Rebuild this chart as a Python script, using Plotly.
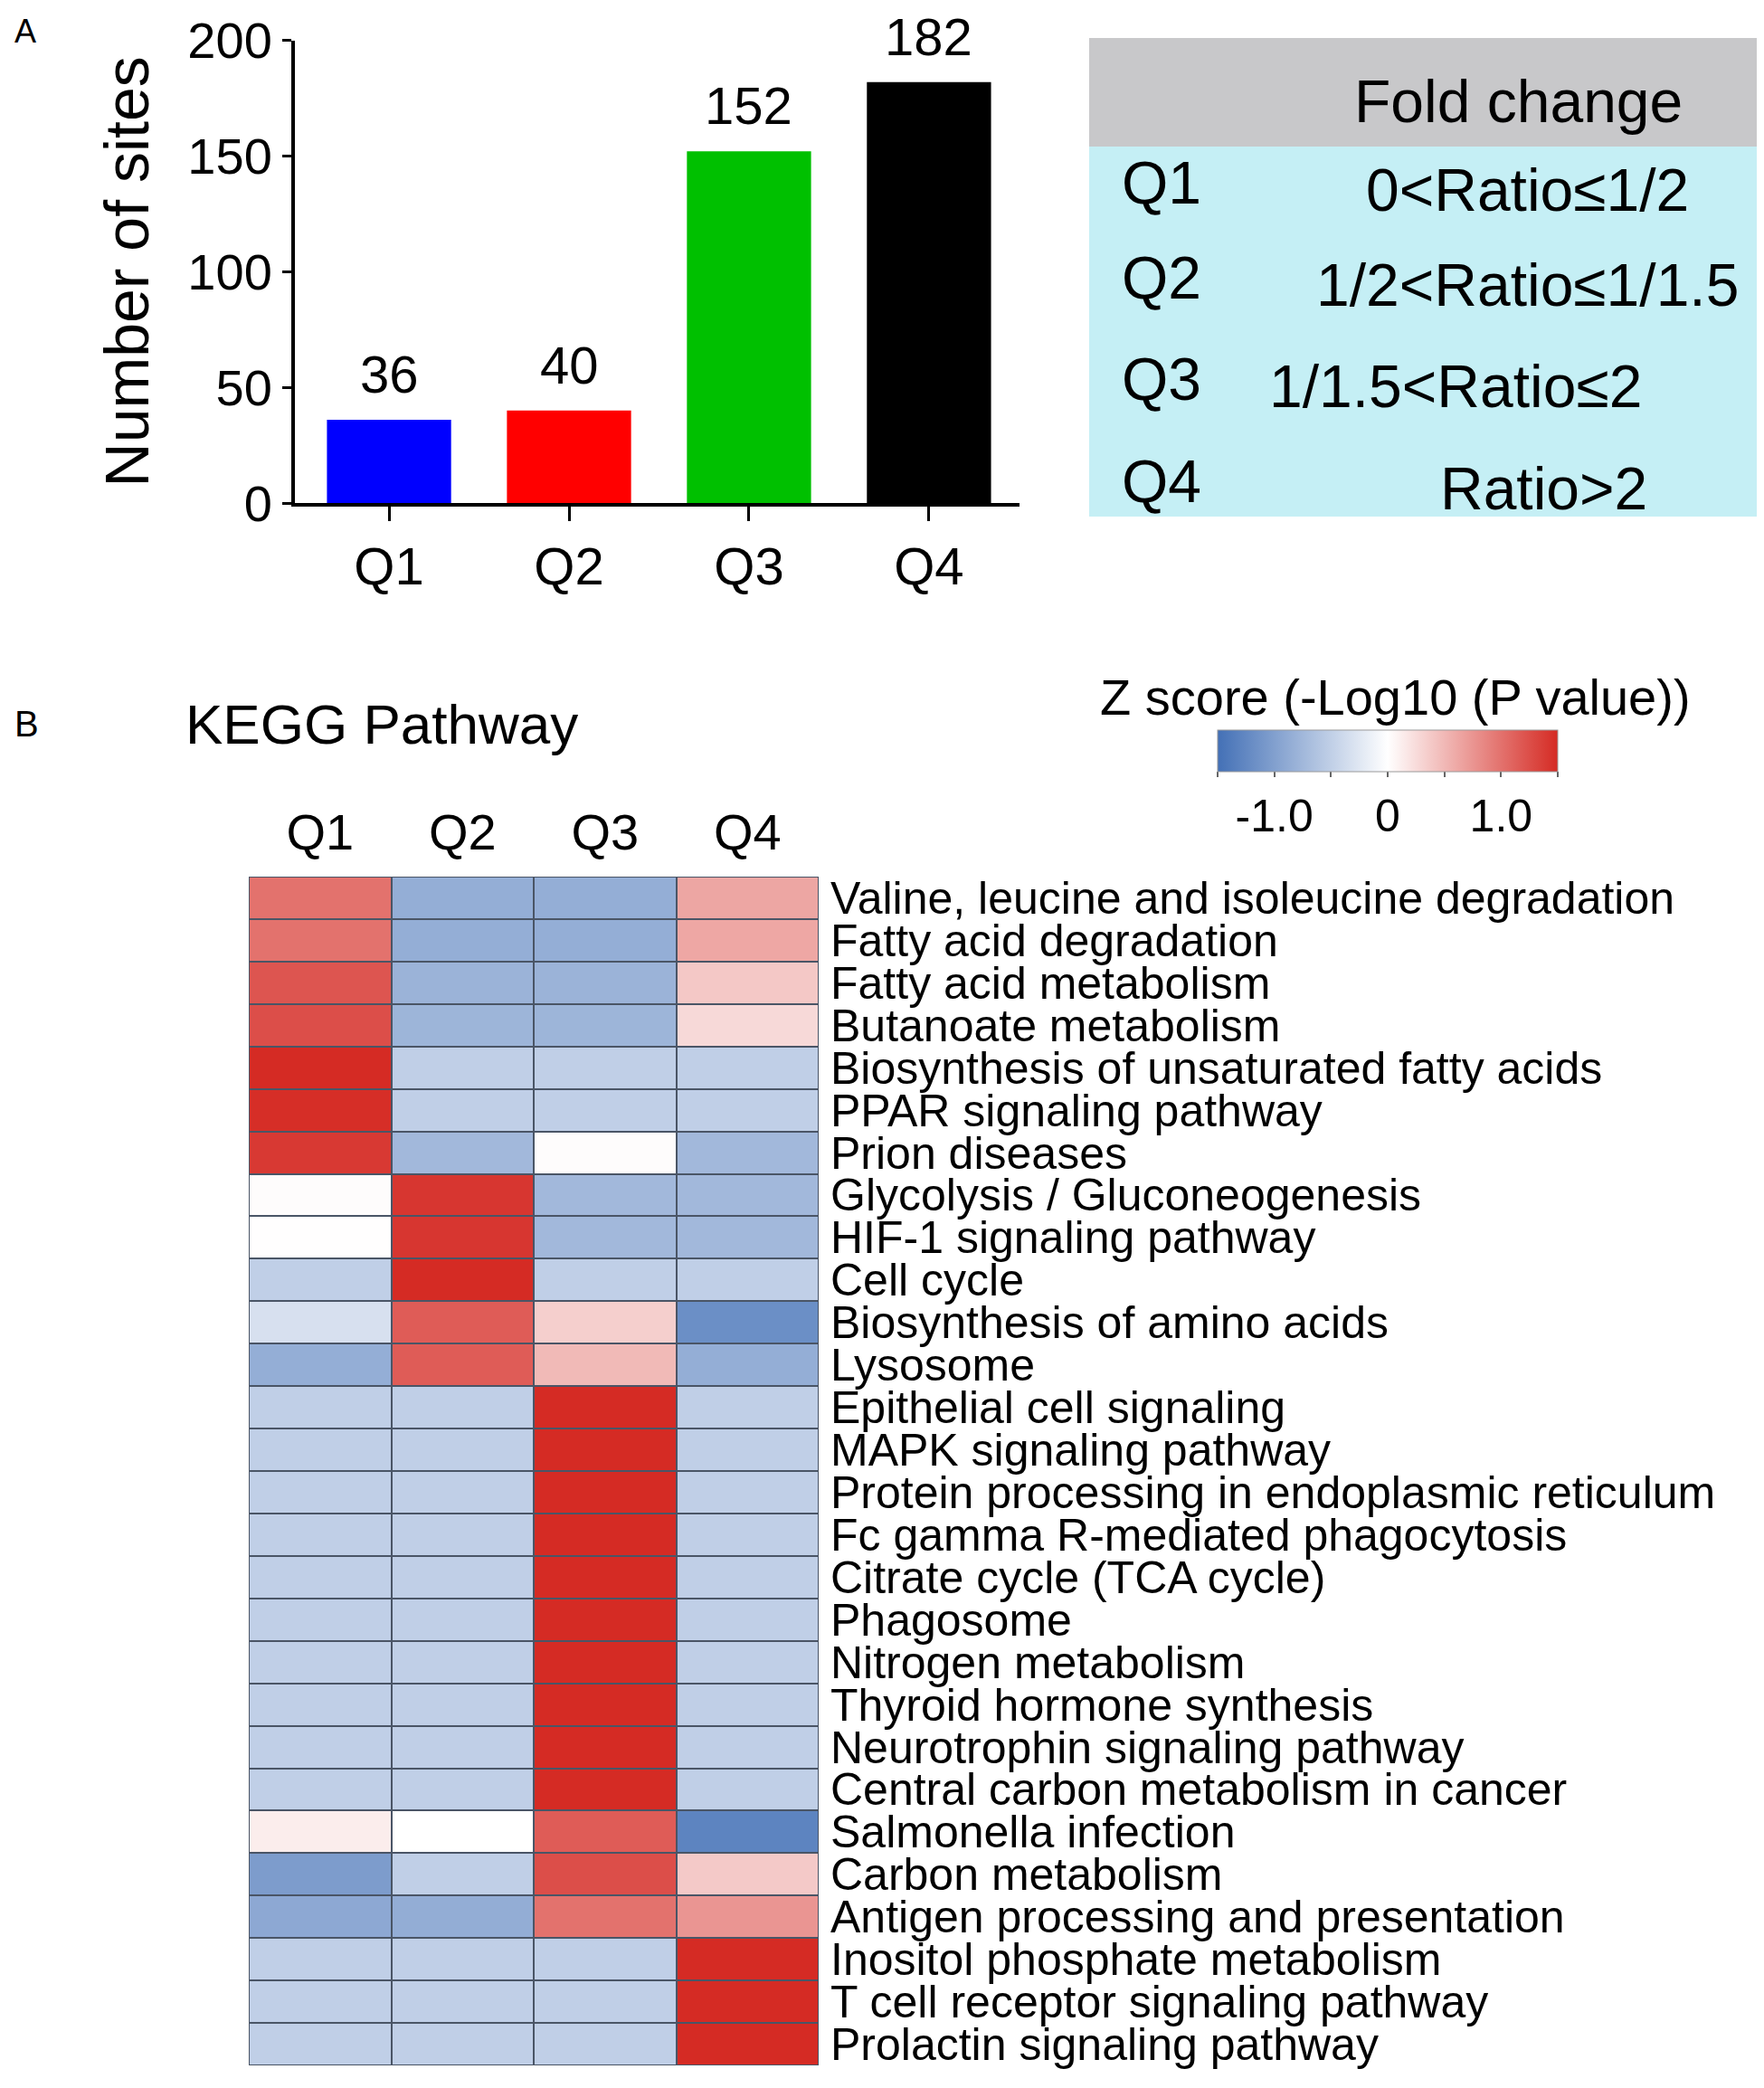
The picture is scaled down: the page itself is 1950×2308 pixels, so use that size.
import plotly.graph_objects as go

W, H = 1950, 2308
OFF = 8  # browser body margin shifts the figure
FONT = "Liberation Sans, Arial, sans-serif"

# ---- panel A data
groups = ["Q1", "Q2", "Q3", "Q4"]
site_counts = [36, 40, 152, 182]
bar_colors = ["#0000ff", "#ff0000", "#00c000", "#000000"]
y_ticks = [0, 50, 100, 150, 200]

fold_header = "Fold change"
fold_ranges = ["0<Ratio≤1/2", "1/2<Ratio≤1/1.5", "1/1.5<Ratio≤2", "Ratio>2"]

# ---- panel B data
pathways = [
    "Valine, leucine and isoleucine degradation",
    "Fatty acid degradation",
    "Fatty acid metabolism",
    "Butanoate metabolism",
    "Biosynthesis of unsaturated fatty acids",
    "PPAR signaling pathway",
    "Prion diseases",
    "Glycolysis / Gluconeogenesis",
    "HIF-1 signaling pathway",
    "Cell cycle",
    "Biosynthesis of amino acids",
    "Lysosome",
    "Epithelial cell signaling",
    "MAPK signaling pathway",
    "Protein processing in endoplasmic reticulum",
    "Fc gamma R-mediated phagocytosis",
    "Citrate cycle (TCA cycle)",
    "Phagosome",
    "Nitrogen metabolism",
    "Thyroid hormone synthesis",
    "Neurotrophin signaling pathway",
    "Central carbon metabolism in cancer",
    "Salmonella infection",
    "Carbon metabolism",
    "Antigen processing and presentation",
    "Inositol phosphate metabolism",
    "T cell receptor signaling pathway",
    "Prolactin signaling pathway",
]
q1_z = [1.0, 1.0, 1.2, 1.25, 1.5, 1.48, 1.4, 0.02, 0.01, -0.5, -0.32, -0.85,
        -0.5, -0.5, -0.5, -0.5, -0.5, -0.5, -0.5, -0.5, -0.5, -0.5,
        0.13, -1.04, -0.91, -0.5, -0.5, -0.5]
q2_z = [-0.85, -0.85, -0.8, -0.78, -0.5, -0.5, -0.74, 1.42, 1.42, 1.5, 1.15, 1.15,
        -0.5, -0.5, -0.5, -0.5, -0.5, -0.5, -0.5, -0.5, -0.5, -0.5,
        0.0, -0.5, -0.86, -0.5, -0.5, -0.5]
q3_z = [-0.85, -0.85, -0.8, -0.78, -0.5, -0.5, 0.02, -0.74, -0.74, -0.5, 0.34, 0.49,
        1.5, 1.5, 1.5, 1.5, 1.5, 1.5, 1.5, 1.5, 1.5, 1.5,
        1.15, 1.25, 1.0, -0.5, -0.5, -0.5]
q4_z = [0.63, 0.62, 0.39, 0.27, -0.5, -0.5, -0.74, -0.74, -0.74, -0.5, -1.18, -0.85,
        -0.5, -0.5, -0.5, -0.5, -0.5, -0.5, -0.5, -0.5, -0.5, -0.5,
        -1.29, 0.38, 0.75, 1.5, 1.5, 1.5]
cbar_ticks = [-1.5, -1.0, -0.5, 0, 0.5, 1.0, 1.5]
cbar_text = ["", "-1.0", "", "0", "", "1.0", ""]


def px(x):
    return (x - OFF) / W


def py(y):
    return 1 - (y - OFF) / H


def label(x, y, text, size, xanchor="center"):
    # paper-positioned text, anchors given explicitly
    return dict(x=px(x), y=py(y), xref="paper", yref="paper", text=text,
                xanchor=xanchor, yanchor="middle", showarrow=False,
                font=dict(size=size))


z = [[a, b, c, d] for a, b, c, d in zip(q1_z, q2_z, q3_z, q4_z)]

fig = go.Figure()

fig.add_trace(go.Bar(
    x=groups, y=site_counts, marker=dict(color=bar_colors, line_width=0),
    width=0.69, xaxis="x", yaxis="y", showlegend=False,
))

fig.add_trace(go.Heatmap(
    z=z, x=groups, y=pathways, xaxis="x2", yaxis="y2",
    zmin=-1.5, zmax=1.5, xgap=2, ygap=2,
    colorscale=[[0, "#4370b6"], [0.5, "#ffffff"], [1, "#d52b24"]],
    colorbar=dict(
        orientation="h", x=px(1534), xanchor="center", y=py(807), yanchor="top",
        len=376, lenmode="pixels", thickness=46, thicknessmode="pixels",
        xpad=0, ypad=0, outlinewidth=1, outlinecolor="#9a9a9a",
        tickvals=cbar_ticks, ticktext=cbar_text, ticks="outside",
        ticklen=6, tickwidth=2, tickcolor="#666666",
        tickfont=dict(size=50, family=FONT, color="black"),
    ),
))

ann = []
for g, n in zip(groups, site_counts):
    ann.append(dict(x=g, y=n, xref="x", yref="y", text=str(n), showarrow=False,
                    xanchor="center", yanchor="bottom", yshift=16,
                    font=dict(size=58)))

# table text
ann.append(label(1678, 112, fold_header, 66))
row_y = [206, 311, 423, 536]
row_cx = [1688, 1688, 1609, 1706]
for g, r, yy, cx in zip(groups, fold_ranges, row_y, row_cx):
    ann.append(label(1238, yy - 4, g, 66, xanchor="left"))
    ann.append(label(cx, yy + 4, r, 66))

ann += [
    label(14, 34, "A", 36, xanchor="left"),
    label(14, 800, "B", 40, xanchor="left"),
    label(203, 800, "KEGG Pathway", 62, xanchor="left"),
    label(1542, 770, "Z score (-Log10 (P value))", 56),
]

shapes = [
    dict(type="rect", xref="paper", yref="paper", x0=px(1204), x1=px(1946),
         y0=py(42), y1=py(162), fillcolor="#c8c8ca", line_width=0, layer="below"),
    dict(type="rect", xref="paper", yref="paper", x0=px(1204), x1=px(1946),
         y0=py(162), y1=py(571), fillcolor="#c5eff5", line_width=0, layer="below"),
    dict(type="rect", xref="x2 domain", yref="y2 domain", x0=0, x1=1, y0=0, y1=1,
         fillcolor="#4a5566", line_width=0, layer="below"),
]

fig.update_layout(
    width=W, height=H, margin=dict(l=0, r=0, t=0, b=0, autoexpand=False),
    paper_bgcolor="white", plot_bgcolor="white",
    font=dict(family=FONT, color="black"),
    annotations=ann, shapes=shapes,
    xaxis=dict(
        domain=[px(326), px(1127)], range=[-0.523, 3.503], type="category",
        showline=True, linecolor="black", linewidth=4, ticks="outside",
        ticklen=16, tickwidth=3, tickcolor="black", showgrid=False,
        tickfont=dict(size=58), ticklabelstandoff=0, anchor="y", fixedrange=True,
    ),
    yaxis=dict(
        domain=[py(556), py(44.6)], range=[0, 200], tickvals=y_ticks,
        showline=True, linecolor="black", linewidth=4, ticks="outside",
        ticklen=10, tickwidth=3, tickcolor="black", showgrid=False, zeroline=False,
        tickfont=dict(size=56), anchor="x",
        title=dict(text="Number of sites", font=dict(size=68), standoff=22),
    ),
    xaxis2=dict(
        domain=[px(275), px(905)], side="top", anchor="y2", showgrid=False,
        showline=False, ticks="", tickfont=dict(size=56), ticklabelstandoff=18,
    ),
    yaxis2=dict(
        domain=[py(2283), py(969)], side="right", anchor="x2", showgrid=False,
        showline=False, ticks="", autorange="reversed", tickfont=dict(size=50),
        tickmode="array", tickvals=pathways, ticklabelstandoff=12,
    ),
)

fig.write_html("out.html")
